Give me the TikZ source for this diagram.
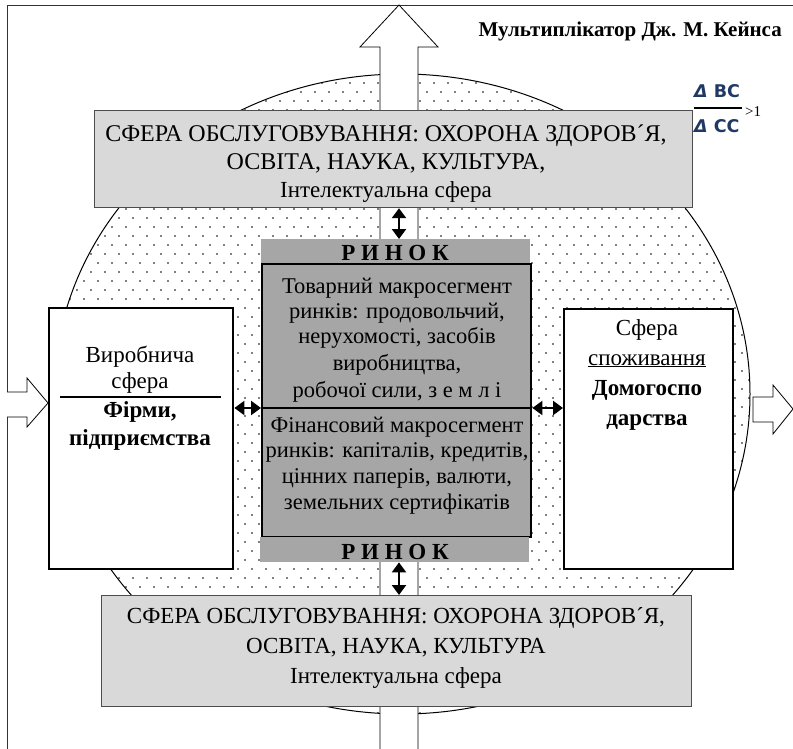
\documentclass[tikz,border=0pt]{standalone}
\usepackage{fontspec}
\setmainfont{Liberation Serif}
\newfontfamily\bodyfont{Liberation Serif}
\newfontfamily\ratiofont{DejaVu Sans}
\usetikzlibrary{arrows.meta,patterns}

\definecolor{servgray}{HTML}{D9D9D9}
\definecolor{marketgray}{HTML}{A6A6A6}
\definecolor{edgegray}{HTML}{4D4D4D}
\definecolor{ratioblue}{HTML}{1F3864}

% sparse staggered dots for the economy oval
\pgfdeclarepatternformonly{sparsedots}{\pgfqpoint{-1pt}{-1pt}}{\pgfqpoint{15pt}{19pt}}{\pgfqpoint{14pt}{18pt}}{%
  \pgfpathcircle{\pgfqpoint{0pt}{0pt}}{0.95pt}%
  \pgfpathcircle{\pgfqpoint{7pt}{9pt}}{0.95pt}%
  \pgfusepath{fill}%
}

\begin{document}
\begin{tikzpicture}[x=1pt,y=-1pt,
  frameline/.style={draw=black!80,line width=0.9pt},
  servbox/.style={draw=edgegray,fill=servgray,line width=1.2pt,inner sep=0pt,anchor=north west},
  barbox/.style={fill=marketgray,inner sep=0pt,anchor=north west},
  marketbox/.style={draw=black,fill=marketgray,line width=2.4pt,inner sep=0pt,anchor=north west},
  sidebox/.style={draw=black,fill=white,line width=2.4pt,inner sep=0pt,anchor=north west},
  hollow/.style={draw=black,fill=white,line width=0.8pt,line join=miter},
  dbl/.style={line width=2.4pt,{Triangle[length=10pt,width=14pt]}-{Triangle[length=10pt,width=14pt]}},
  txt/.style={anchor=base,inner sep=0pt,font=\bodyfont\fontsize{23}{27}\selectfont},
  midtxt/.style={anchor=base,inner sep=0pt,font=\bodyfont\fontsize{22.5}{26}\selectfont},
  boldtxt/.style={anchor=base,inner sep=0pt,font=\bodyfont\bfseries\fontsize{23}{27}\selectfont},
  bigtxt/.style={anchor=base,inner sep=0pt,font=\bodyfont\fontsize{24}{28}\selectfont},
  ratio/.style={inner sep=0pt,text=ratioblue,font=\ratiofont\bfseries\fontsize{17.5}{20}\selectfont}
]
\useasboundingbox (0,0) rectangle (793,749);

% outer frame (left and top edges only)
\draw[frameline] (7,749) -- (7,5) -- (793,5);

% dotted oval of the economy
\draw[line width=1pt,pattern=sparsedots,pattern color=black]
  (402,394) ellipse [x radius=348pt,y radius=320pt];

% large upward hollow arrow crossing the whole scheme
\draw[hollow] (380,749) -- (380,47) -- (360,47) -- (399,5) -- (438,47) -- (418,47) -- (418,749);
\coordinate (axis) at (399,0);

% inflow and outflow arrows
\draw[hollow] (7,392) -- (27,392) -- (27,378) -- (48,403) -- (27,427) -- (27,417) -- (7,417);
\draw[hollow] (753,397) -- (773,397) -- (773,385) -- (793,409) -- (773,434) -- (773,422) -- (753,422) -- cycle;

% boxes
\node[servbox,minimum width=598pt,minimum height=97pt] (topserv) at (94,110) {};
\node[servbox,minimum width=590pt,minimum height=111pt] (botserv) at (101,595) {};
\node[barbox,minimum width=269pt,minimum height=24pt] (topbar) at (261,239) {};
\node[marketbox,minimum width=269pt,minimum height=273pt] (market) at (261,263) {};
\node[barbox,minimum width=269pt,minimum height=25pt] (botbar) at (260,537) {};
\node[sidebox,minimum width=184pt,minimum height=261pt] (prod) at (48,307) {};
\node[sidebox,minimum width=169pt,minimum height=260pt] (cons) at (563,308) {};

% market split line and two-way links
\coordinate (split) at (395,408);
\draw[line width=2.4pt] (market.west |- split) -- (market.east |- split);
\draw[dbl] (prod.east |- split) -- (market.west |- split);
\draw[dbl] (market.east |- split) -- (cons.west |- split);
\draw[dbl] (axis |- topserv.south) -- (axis |- topbar.north);
\draw[dbl] (axis |- botbar.south) -- (axis |- botserv.north);

% title and ratio
\node[anchor=base east,inner sep=0pt,font=\bodyfont\bfseries\fontsize{21}{24}\selectfont] (title) at (782,37) {Мультиплікатор Дж. М. Кейнса};
\node[ratio,anchor=base west] (num) at (694,98) {\textit{Δ} ВС};
\node[ratio,anchor=base west] (den) at (694,133) {\textit{Δ} СС};
\draw[line width=1.2pt] (694,108) -- (742,108);
\node[anchor=base west,inner sep=0pt,font=\bodyfont\fontsize{15}{17}\selectfont] (gt) at (745,117) {>1};

% service sphere, top
\node[bigtxt] (t1) at (386,142) {СФЕРА ОБСЛУГОВУВАННЯ: ОХОРОНА ЗДОРОВ´Я,};
\node[bigtxt] (t2) at (386,170) {ОСВІТА, НАУКА, КУЛЬТУРА,};
\node[txt] (t3) at (386,197) {Інтелектуальна сфера};

% service sphere, bottom
\node[txt] (b1) at (396,623) {СФЕРА ОБСЛУГОВУВАННЯ: ОХОРОНА ЗДОРОВ´Я,};
\node[txt] (b2) at (396,653) {ОСВІТА, НАУКА, КУЛЬТУРА};
\node[txt] (b3) at (396,683) {Інтелектуальна сфера};

% market headers
\node[boldtxt] (r1) at (395,260) {Р И Н О К};
\node[boldtxt] (r2) at (395,559) {Р И Н О К};

% market segments
\node[midtxt] (m1) at (397,293) {Товарний макросегмент};
\node[midtxt] (m2) at (397,318) {ринків: продовольчий,};
\node[midtxt] (m3) at (397,343) {нерухомості, засобів};
\node[midtxt] (m4) at (397,370) {виробництва,};
\node[midtxt] (m5) at (397,397) {робочої сили, з е м л і};
\node[midtxt] (f1) at (397,432) {Фінансовий макросегмент};
\node[midtxt] (f2) at (397,457) {ринків: капіталів, кредитів,};
\node[midtxt] (f3) at (397,483) {цінних паперів, валюти,};
\node[midtxt] (f4) at (397,509) {земельних сертифікатів};

% production sphere
\node[txt] (p1) at (140,362) {Виробнича};
\node[txt] (p2) at (140,388) {сфера};
\draw[line width=1.6pt] (60,397) -- (221,397);
\node[boldtxt] (p3) at (140,417) {Фірми,};
\node[boldtxt] (p4) at (140,445) {підприємства};

% consumption sphere
\node[txt] (c1) at (647,335) {Сфера};
\node[txt] (c2) at (647,365) {\underline{споживання}};
\node[boldtxt] (c3) at (647,395) {Домогоспо};
\node[boldtxt] (c4) at (647,425) {дарства};
\end{tikzpicture}
\end{document}
